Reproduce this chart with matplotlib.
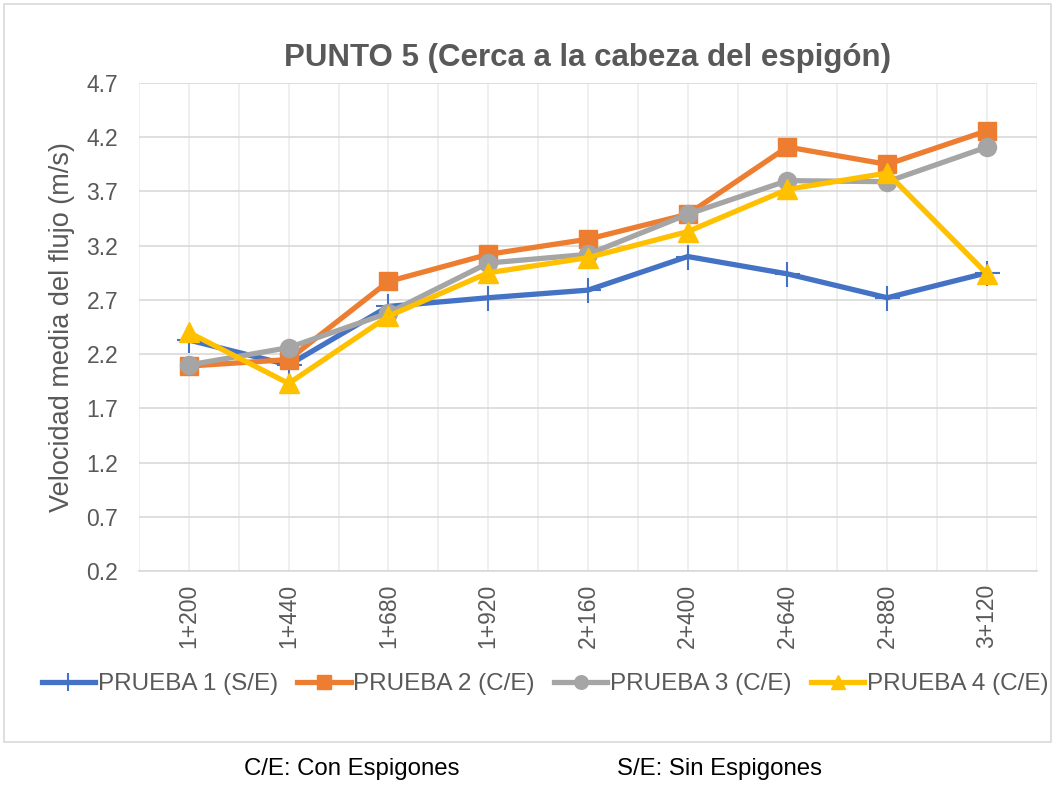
import matplotlib.pyplot as plt
import numpy as np
from matplotlib.patches import Rectangle

plt.rcParams['font.family'] = ['Liberation Sans', 'DejaVu Sans']

# abscisas (estaciones) y velocidades medias de cada prueba
estaciones = ['1+200', '1+440', '1+680', '1+920', '2+160', '2+400', '2+640', '2+880', '3+120']
prueba1 = [2.33, 2.10, 2.64, 2.72, 2.79, 3.10, 2.94, 2.72, 2.95]
prueba2 = [2.09, 2.15, 2.87, 3.12, 3.26, 3.49, 4.11, 3.95, 4.26]
prueba3 = [2.10, 2.26, 2.58, 3.04, 3.12, 3.49, 3.80, 3.79, 4.11]
prueba4 = [2.40, 1.93, 2.55, 2.95, 3.09, 3.33, 3.72, 3.87, 2.94]
yticks = [0.2, 0.7, 1.2, 1.7, 2.2, 2.7, 3.2, 3.7, 4.2, 4.7]

gris = '#595959'
fig = plt.figure(figsize=(10.57, 7.9), dpi=100)
ax = fig.add_axes([0.1315, 0.2772, 0.8495, 0.6177])

x = np.arange(len(estaciones))
ax.plot(x, prueba1, color='#4472C4', lw=3.8, marker='+', ms=18, mew=1.5, label='PRUEBA 1 (S/E)', zorder=3)
ax.plot(x, prueba2, color='#ED7D31', lw=3.8, marker='s', ms=13, label='PRUEBA 2 (C/E)', zorder=4)
ax.plot(x, prueba3, color='#A5A5A5', lw=3.8, marker='o', ms=13, label='PRUEBA 3 (C/E)', zorder=5)
ax.plot(x, prueba4, color='#FFC000', lw=3.8, marker='^', ms=14, label='PRUEBA 4 (C/E)', zorder=6)

ax.set_xlim(-0.5, len(estaciones) - 0.5)
ax.set_ylim(0.2, 4.7)
ax.set_yticks(yticks)
ax.set_yticklabels([f'{v:.1f}' for v in yticks])
ax.set_xticks(x)
ax.set_xticklabels(estaciones, rotation=90, fontsize=18.5)
ax.set_xticks(np.arange(-0.5, len(estaciones), 0.5), minor=True)
ax.tick_params(axis='both', which='both', length=0, colors=gris, labelsize=16.5)
ax.tick_params(axis='x', pad=9)
ax.tick_params(axis='y', pad=15)
ax.grid(True, axis='y', color='#d9d9d9', lw=1.2)
ax.grid(True, axis='x', which='both', color='#ececec', lw=1.2)
ax.set_axisbelow(True)
for s in ['top', 'right', 'left']:
    ax.spines[s].set_visible(False)
ax.spines['bottom'].set_color('#d9d9d9')
ax.spines['bottom'].set_linewidth(1.2)

ax.set_ylabel('Velocidad media del flujo (m/s)', color=gris, fontsize=19.5, labelpad=8)
ax.set_title('PUNTO 5 (Cerca a la cabeza del espigón)', color=gris, fontsize=22.5,
             fontweight='bold', pad=12)

fig.legend(loc='center', bbox_to_anchor=(0.5156, 0.134), ncol=4, frameon=False,
           fontsize=17.5, labelcolor=gris, handlelength=2.2, handletextpad=0.1,
           columnspacing=0.8, markerscale=0.75)

# marco del grafico
fig.patches.append(Rectangle((0.004, 0.061), 0.99, 0.934, transform=fig.transFigure,
                             fill=False, edgecolor='#d9d9d9', lw=1.2))

fig.text(0.333, 0.0185, 'C/E: Con Espigones', ha='center', fontsize=17.3, color='black')
fig.text(0.681, 0.0185, 'S/E: Sin Espigones', ha='center', fontsize=17.3, color='black')

plt.savefig('out.png', dpi=100)
